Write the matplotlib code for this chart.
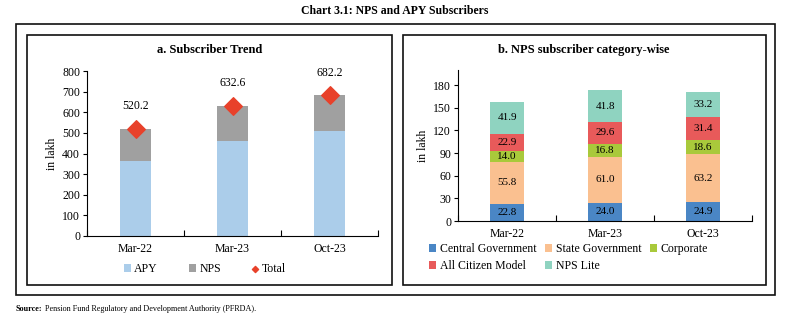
import numpy as np
import matplotlib.pyplot as plt
from matplotlib.patches import Rectangle

plt.rcParams['font.family'] = ['Liberation Serif', 'DejaVu Serif']

periods = ['Mar-22', 'Mar-23', 'Oct-23']

# panel a
apy = [362.8, 459.4, 510.9]
nps = [157.4, 173.2, 171.3]
total = [520.2, 632.6, 682.2]

# panel b
central_govt = [22.8, 24.0, 24.9]
state_govt = [55.8, 61.0, 63.2]
corporate = [14.0, 16.8, 18.6]
all_citizen = [22.9, 29.6, 31.4]
nps_lite = [41.9, 41.8, 33.2]
cat_names = ['Central Government', 'State Government', 'Corporate',
             'All Citizen Model', 'NPS Lite']
cat_colors = ['#4a86c5', '#fac090', '#a9c93b', '#e85a5a', '#8fd3c0']

W, H = 800, 326
fig = plt.figure(figsize=(8, 3.26), dpi=100)


def px_box(x0, y0, x1, y1, lw=1.2):
    fig.patches.append(Rectangle((x0 / W, 1 - y1 / H), (x1 - x0) / W, (y1 - y0) / H,
                                 transform=fig.transFigure, fill=False,
                                 edgecolor='#111111', linewidth=lw))


px_box(16, 24, 775, 295)
px_box(27, 35, 392, 285)
px_box(403, 35, 766, 285)

fig.text(395 / W, 1 - 11 / H, 'Chart 3.1: NPS and APY Subscribers', ha='center',
         va='center', fontsize=8.5, fontweight='bold')
src = fig.text(16 / W, 1 - 309 / H, 'Source:', ha='left', va='center',
               fontsize=5.9, fontweight='bold')
fig.canvas.draw()
bb = src.get_window_extent()
fig.text(bb.x1 / W + 0.003, 1 - 309 / H,
         'Pension Fund Regulatory and Development Authority (PFRDA).',
         ha='left', va='center', fontsize=5.9)

x = np.arange(len(periods))


def style_axes(ax):
    ax.set_xlim(-0.5, 2.5)
    ax.set_xticks(x)
    ax.set_xticklabels(periods)
    ax.set_xticks([-0.5, 0.5, 1.5, 2.5], minor=True)
    ax.tick_params(axis='x', which='major', length=0, labelsize=8.5, pad=5)
    ax.tick_params(axis='x', which='minor', length=4, width=0.8, direction='in')
    ax.tick_params(axis='y', length=3, width=0.8, labelsize=8.5, pad=2)
    for s in ['top', 'right']:
        ax.spines[s].set_visible(False)
    ax.spines['left'].set_linewidth(0.8)
    ax.spines['bottom'].set_linewidth(0.8)
    ax.set_ylabel('in lakh', fontsize=8.5, labelpad=3)


# ---- panel a
ax1 = fig.add_axes([87 / W, 1 - 236 / H, (378 - 87) / W, (236 - 71) / H])
b1 = ax1.bar(x, apy, width=0.31, color='#abcdea', label='APY')
b2 = ax1.bar(x, nps, width=0.31, bottom=apy, color='#a0a0a0', label='NPS')
sc = ax1.scatter(x, total, marker='D', s=80, color='#e8412a', zorder=3, label='Total')
for xi, t in zip(x, total):
    ax1.text(xi, t + 108, f'{t:.1f}', ha='center', va='center', fontsize=8.5)
ax1.set_ylim(0, 800)
ax1.set_yticks(range(0, 801, 100))
style_axes(ax1)
fig.text(210 / W, 1 - 50 / H, 'a. Subscriber Trend', ha='center', va='center',
         fontsize=9, fontweight='bold')
fig.legend([b1, b2, sc], ['APY', 'NPS', 'Total'], loc='center',
           bbox_to_anchor=(205 / W, 1 - 269 / H), ncol=3, frameon=False,
           fontsize=8.5, handlelength=0.6, handleheight=0.6, handletextpad=0.3,
           columnspacing=2.6, borderaxespad=0, borderpad=0, markerscale=0.35)

# ---- panel b
ax2 = fig.add_axes([458 / W, 1 - 221 / H, (752 - 458) / W, (221 - 70) / H])
series = [central_govt, state_govt, corporate, all_citizen, nps_lite]
bottom = np.zeros(len(periods))
handles = []
for vals, name, col in zip(series, cat_names, cat_colors):
    h = ax2.bar(x, vals, width=0.35, bottom=bottom, color=col, label=name)
    handles.append(h)
    for xi, b, v in zip(x, bottom, vals):
        ax2.text(xi, b + v / 2, f'{v:.1f}', ha='center', va='center', fontsize=8)
    bottom = bottom + np.array(vals)
ax2.set_ylim(0, 200)
ax2.set_yticks(range(0, 181, 30))
style_axes(ax2)
fig.text(584 / W, 1 - 50 / H, 'b. NPS subscriber category-wise', ha='center',
         va='center', fontsize=9, fontweight='bold')
order = [0, 3, 1, 4, 2]
fig.legend([handles[i] for i in order], [cat_names[i] for i in order],
           loc='upper left', bbox_to_anchor=(429 / W, 1 - 243 / H), ncol=3,
           frameon=False, fontsize=8.5, handlelength=0.6, handleheight=0.6,
           handletextpad=0.3, columnspacing=0.75, labelspacing=0.45,
           borderaxespad=0, borderpad=0)

fig.savefig('out.png', dpi=100)
